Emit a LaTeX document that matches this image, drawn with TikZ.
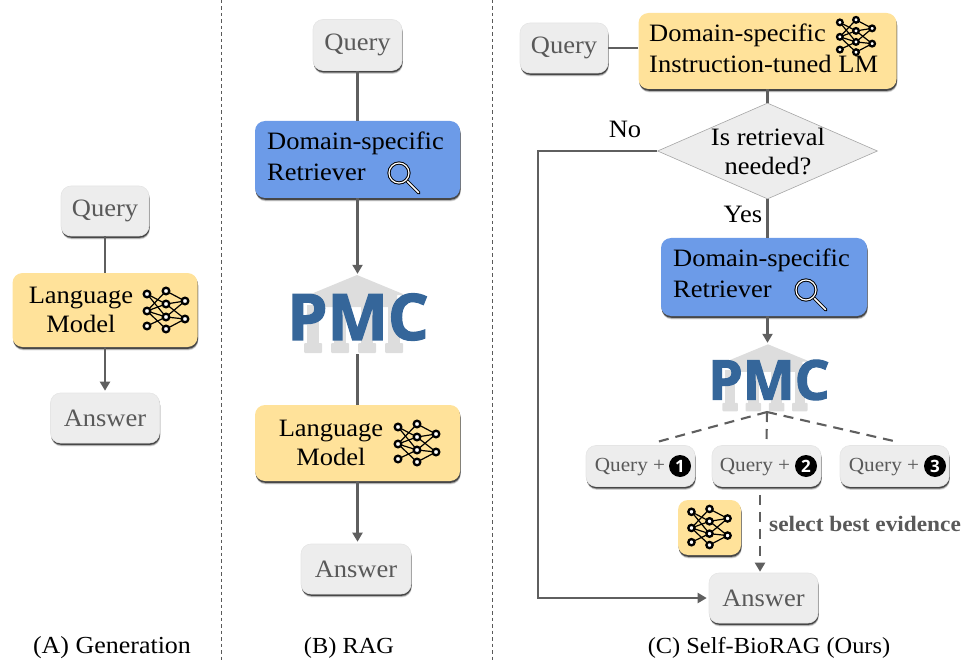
\documentclass[tikz,border=0pt]{standalone}
\usepackage{fontspec}
\setmainfont{Liberation Serif}[FakeStretch=1.06]
\newfontfamily\pmcfont{Open Sans}[BoldFont={* Bold},BoldFeatures={FakeStretch=1.0,FakeBold=2}]
\newfontfamily\badgefont{Open Sans}[BoldFont={* Bold}]
\usetikzlibrary{shapes.geometric,shadows,arrows.meta}
\definecolor{boxgray}{HTML}{EDEDED}
\definecolor{txtgray}{HTML}{595959}
\definecolor{linegray}{HTML}{5F5F5F}
\definecolor{lmyellow}{HTML}{FFE29A}
\definecolor{retblue}{HTML}{6C9BE8}
\definecolor{pmcblue}{HTML}{35669A}
\definecolor{templegray}{HTML}{DDDDDD}
\tikzset{
 x=1pt,y=-1pt,
 softshadow/.style={
   general shadow={shadow xshift=0.8pt,shadow yshift=-3.4pt,fill=black,opacity=.14},
   general shadow={shadow xshift=0.7pt,shadow yshift=-2.6pt,fill=black,opacity=.28},
   general shadow={shadow xshift=0.5pt,shadow yshift=-1.8pt,fill=black,opacity=.55}},
 box/.style={rounded corners=10pt,inner sep=0pt,align=center,softshadow},
 graybox/.style={box,fill=boxgray,draw=black!10,line width=.6pt,text=txtgray,font=\fontsize{25}{29}\selectfont},
 yellowbox/.style={box,fill=lmyellow,text=black,font=\fontsize{25}{29}\selectfont},
 bluebox/.style={box,fill=retblue,text=black,font=\fontsize{25}{29}\selectfont},
 conn/.style={draw=linegray,line width=2.1pt},
 arr/.style={conn,-{Triangle[length=9pt,width=10pt]}},
 dconn/.style={conn,dash pattern=on 10pt off 7pt},
 darr/.style={dconn,-{Triangle[length=9pt,width=10pt]}},
 pmcbox/.style={minimum width=136pt,minimum height=80pt,inner sep=0pt},
 badge/.style={circle,fill=black,text=white,minimum size=22pt,inner sep=0pt,font=\badgefont\bfseries\fontsize{17}{17}\selectfont},
 lbl/.style={font=\fontsize{25}{29}\selectfont,text=black,inner sep=0pt},
 qlbl/.style={text=txtgray,font=\fontsize{20}{24}\selectfont,inner sep=0pt},
 caption/.style={font=\fontsize{24.5}{28}\selectfont,text=black,inner sep=0pt},
 captionsm/.style={font=\fontsize{23}{28}\selectfont,text=black,inner sep=0pt},
 nnet/.pic={
  \foreach \n/\a/\b in {l1/-19/-16,l2/-19/1,l3/-19/16,m1/0/-19,m2/0/-6,m3/0/7,m4/0/19,r1/19/-9,r2/19/9}
    \coordinate (-\n) at (\a,\b);
  \foreach \p/\q in {l1/m2,l1/m3,l2/m1,l2/m2,l2/m3,l2/m4,l3/m3,m1/r1,m2/r2,m3/r1,m4/r2,m2/r1,m3/r2}
    \draw[black,line width=1.2pt] (-\p) -- (-\q);
  \foreach \n in {l1,l2,l3,m1,m2,m3,m4,r1,r2}
    \draw[black,fill=white,line width=2.3pt] (-\n) circle (3.3);
 },
 lens/.pic={
  \draw[black,line width=3.4pt,line cap=round] (7,7) -- (20,20);
  \draw[white,line width=1.7pt,line cap=round] (8,8) -- (19.5,19.5);
  \draw[black,line width=3.2pt] (0,0) circle (10);
  \draw[white,line width=1.2pt] (0,0) circle (10);
 },
 temple/.pic={
  \fill[templegray] (0,-38) -- (46,-19) -- (46,-18) -- (40,-18) -- (40,-6) -- (-40,-6) -- (-40,-18) -- (-46,-18) -- (-46,-19) -- cycle;
  \foreach \c in {-44,-17,10,37}
    {\fill[templegray] (\c-6,-8) rectangle (\c+6,34);
     \fill[templegray,rounded corners=1pt] (\c-9,30) rectangle (\c+9,40);}
 },
}
\begin{document}
\begin{tikzpicture}
\useasboundingbox (0,0) rectangle (963,660);
% separators
\coordinate (sepAtop) at (221,0); \coordinate (sepAbot) at (221,660);
\coordinate (sepBtop) at (492,0); \coordinate (sepBbot) at (492,660);
\draw[black!65,line width=.8pt,dash pattern=on 3.5pt off 3pt] (sepAtop) -- (sepAbot);
\draw[black!65,line width=.8pt,dash pattern=on 3.5pt off 3pt] (sepBtop) -- (sepBbot);

% --- A
\node[graybox,minimum width=88pt,minimum height=50pt] (qA) at (105,211) {Query};
\node[yellowbox,minimum width=185pt,minimum height=74pt] (lmA) at (105,310) {};
\node[lbl,align=center] (lmAt) at (81,310) {Language\\Model};
\node[graybox,minimum width=109pt,minimum height=50pt] (aA) at (105,418) {Answer};
\pic (nnA) at (166,310) {nnet};
\draw[conn] (qA.south) -- (lmA.north);
\draw[arr] (lmA.south) -- ([yshift=2pt]aA.north);

% --- B
\node[graybox,minimum width=89pt,minimum height=51pt] (qB) at (357.5,45) {Query};
\node[bluebox,minimum width=205pt,minimum height=77pt] (rB) at (357.5,159.5) {};
\node[lbl,anchor=west] (rBt1) at (267,143) {Domain-specific};
\node[lbl,anchor=west] (rBt2) at (267,172) {Retriever};
\pic (lensB) at (399,173) {lens};
\node[pmcbox] (pmcB) at (357.5,314) {};
\pic (templeB) at (357,313) {temple};
\node[font=\pmcfont\bfseries\fontsize{64}{64}\selectfont,text=pmcblue,inner sep=0pt] (pmcBt) at (358,317) {PMC};
\node[yellowbox,minimum width=205pt,minimum height=76pt] (lmB) at (357.5,443) {};
\node[lbl,align=center] (lmBt) at (331,443) {Language\\Model};
\pic (nnB) at (417,443) {nnet};
\node[graybox,minimum width=110pt,minimum height=50pt] (aB) at (356,569) {Answer};
\draw[conn] (qB.south) -- (rB.north);
\draw[arr] (rB.south) -- (pmcB.north);
\draw[conn] (pmcB.south) -- (lmB.north);
\draw[arr] (lmB.south) -- ([yshift=2pt]lmB.south |- aB.north);

% --- C
\node[graybox,minimum width=88pt,minimum height=50pt] (qC) at (564,48) {Query};
\node[yellowbox,minimum width=258pt,minimum height=76pt] (lmC) at (767.5,51) {};
\node[lbl,anchor=west] (lmCt1) at (649,35) {Domain-specific};
\node[lbl,anchor=west] (lmCt2) at (649,64) {Instruction-tuned LM};
\pic (nnC) at (856,36) [scale=.85] {nnet};
\node[diamond,aspect=2.29,fill=boxgray,draw=black!35,line width=.6pt,minimum width=220pt,minimum height=96pt,inner sep=0pt] (dec) at (767.5,151) {};
\node[lbl,align=center,text=black] (dect) at (768,152) {Is retrieval\\needed?};
\node[lbl] (no) at (625,129) {No};
\node[lbl] (yes) at (743,214) {Yes};
\node[bluebox,minimum width=206pt,minimum height=78pt] (rC) at (764,277) {};
\node[lbl,anchor=west] (rCt1) at (673,260) {Domain-specific};
\node[lbl,anchor=west] (rCt2) at (673,289) {Retriever};
\pic (lensC) at (806,290) {lens};
\node[pmcbox,minimum width=118pt,minimum height=70pt] (pmcC) at (767.5,378) {};
\pic (templeC) at (768,377) [scale=.86] {temple};
\node[font=\pmcfont\bfseries\fontsize{55}{55}\selectfont,text=pmcblue,inner sep=0pt] (pmcCt) at (769,380) {PMC};
\coordinate (fan) at (767,412);
\node[graybox,minimum width=109pt,minimum height=41pt] (q1) at (640.5,466) {};
\node[graybox,minimum width=109pt,minimum height=41pt] (q2) at (766.5,466) {};
\node[graybox,minimum width=109pt,minimum height=41pt] (q3) at (894.5,466) {};
\node[qlbl] (q1t) at (630,467) {Query +};
\node[qlbl] (q2t) at (755,467) {Query +};
\node[qlbl] (q3t) at (884,467) {Query +};
\node[badge] (b1) at (680,466) {1};
\node[badge] (b2) at (806,466) {2};
\node[badge] (b3) at (935,466) {3};
\node[yellowbox,minimum width=63pt,minimum height=55pt] (sel) at (709.5,527.5) {};
\pic (nnS) at (709.5,527) [scale=.95] {nnet};
\node[font=\bfseries\fontsize{22}{24}\selectfont,text=txtgray,inner sep=0pt,anchor=west] (selt) at (769,524) {select best evidence};
\node[graybox,minimum width=109pt,minimum height=50pt] (aC) at (763.5,598) {Answer};
\coordinate (noCorner) at (538,400);
\draw[conn] (qC.east) -- (lmC.west |- qC.east);
\draw[conn] (lmC.south) -- (dec.north);
\draw[conn] (dec.south) -- (dec.south |- rC.north);
\draw[arr] (rC.south -| dec.south) -- (pmcC.north);
\draw[arr] (dec.west) -| (noCorner) |- ([xshift=-2pt]aC.west);
\draw[dconn] (fan) -- ([xshift=12pt,yshift=2pt]q1.north);
\draw[dconn] (fan) -- ([yshift=4pt]q2.north);
\draw[dconn] (fan) -- ([yshift=4pt]q3.north);
\draw[darr] ([xshift=-6.5pt,yshift=-8pt]q2.south) -- ([xshift=-3.5pt,yshift=1pt]aC.north);

% captions
\node[caption] (capA) at (112,648) {(A) Generation};
\node[captionsm] (capB) at (349,648) {(B) RAG};
\node[captionsm] (capC) at (769,648) {(C) Self-BioRAG (Ours)};
\end{tikzpicture}
\end{document}
